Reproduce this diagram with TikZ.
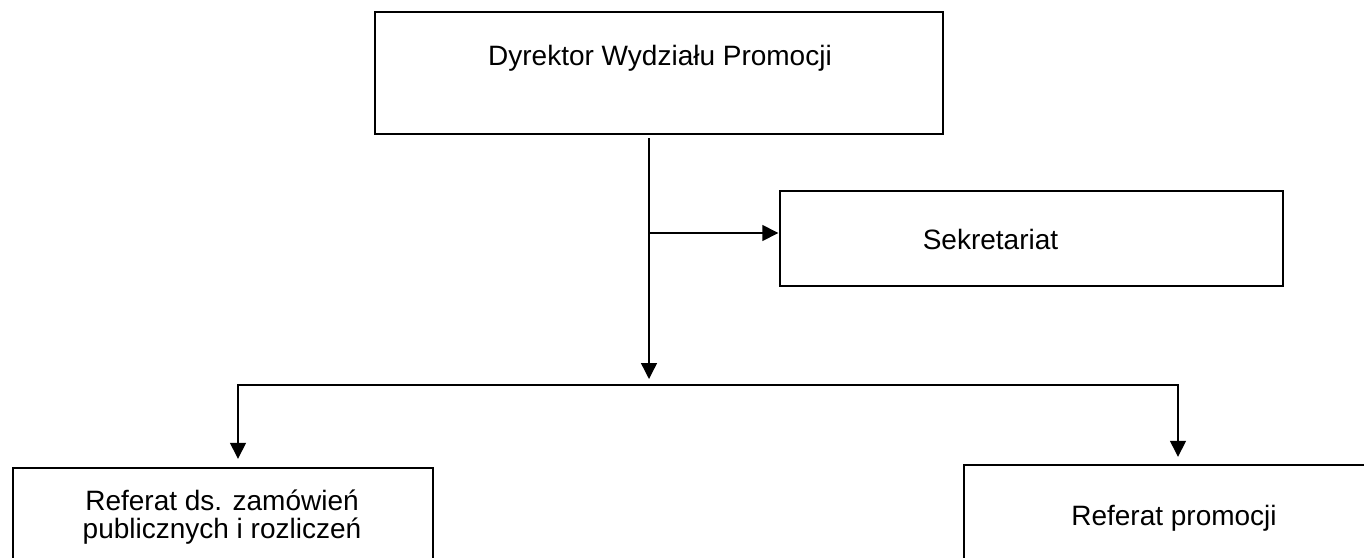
\documentclass[tikz,border=0pt]{standalone}
\usepackage{fontspec}
\setmainfont{Liberation Sans}
\usetikzlibrary{arrows.meta}
\begin{document}
\begin{tikzpicture}[x=1pt,y=-1pt,
  box/.style={draw=black,line width=2.7pt,inner sep=0pt},
  lbl/.style={anchor=base,inner sep=0pt,font=\fontsize{28}{32}\selectfont,text=black},
  conn/.style={draw=black,line width=1.4pt},
  arr/.style={conn,-{Triangle[length=16pt,width=16pt]}}]
\useasboundingbox (0,0) rectangle (1364,557);
\begin{scope}
\clip (0,0) rectangle (1364,557);
% boxes
\path[box] (375,12) rectangle (943,134);
\node[inner sep=0pt,minimum width=568pt,minimum height=122pt] (dyr) at (659,73) {};
\path[box] (780,191) rectangle (1283,286);
\node[inner sep=0pt,minimum width=503pt,minimum height=95pt] (sek) at (1031.5,238.5) {};
\path[box] (13,468) rectangle (433,600);
\node[inner sep=0pt,minimum width=420pt,minimum height=132pt] (ref1) at (223,534) {};
\path[box] (964,465) rectangle (1420,600);
\node[inner sep=0pt,minimum width=456pt,minimum height=135pt] (ref2) at (1192,532.5) {};
\end{scope}
% texts
\node[lbl] (t1) at (660,65) {Dyrektor Wydziału Promocji};
\node[lbl] (t2) at (990.5,249) {Sekretariat};
\node[lbl] (t3) at (222,510) {Referat ds. zamówień};
\node[lbl] (t4) at (222,538) {publicznych i rozliczeń};
\node[lbl] (t5) at (1174,525) {Referat promocji};
% connectors
\coordinate (s) at (649,138);
\coordinate (m) at (649,233);
\coordinate (j) at (649,385);
\coordinate (l) at (238,385);
\coordinate (r) at (1178,385);
\draw[arr] (s) -- ([yshift=6pt]j);
\draw[arr] (m) -- ([xshift=-1.5pt]sek.west |- m);
\draw[conn] ([xshift=-0.7pt]l) -- ([xshift=0.7pt]r);
\draw[arr] (l) -- ([yshift=9pt]l |- ref1.north);
\draw[arr] (r) -- ([yshift=8pt]r |- ref2.north);
\end{tikzpicture}
\end{document}
